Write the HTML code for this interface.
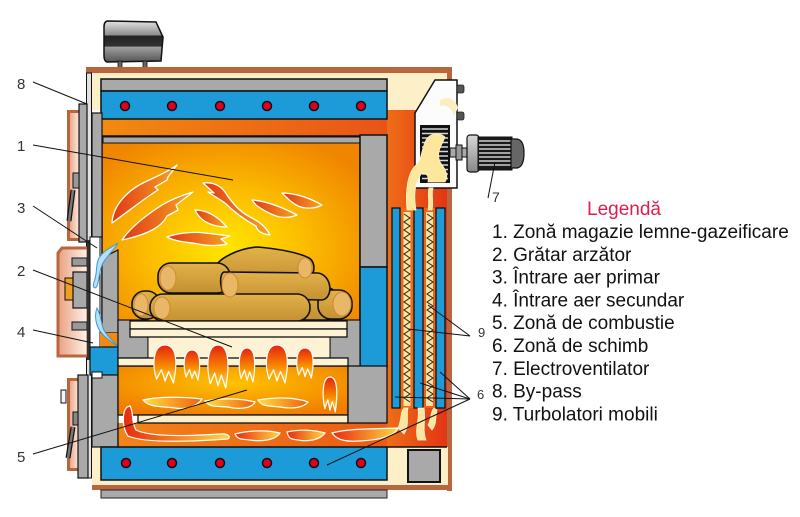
<!DOCTYPE html>
<html><head><meta charset="utf-8"><style>html,body{margin:0;padding:0;background:#fff}svg{display:block}</style></head>
<body>
<svg width="800" height="517" viewBox="0 0 800 517" xmlns="http://www.w3.org/2000/svg">
<defs>
<radialGradient id="gFire" cx="0.48" cy="0.6" r="0.65">
 <stop offset="0" stop-color="#ffe600"/>
 <stop offset="0.45" stop-color="#fcbe00"/>
 <stop offset="1" stop-color="#f08600"/>
</radialGradient>
<radialGradient id="gLow" cx="0.5" cy="0.35" r="0.7">
 <stop offset="0" stop-color="#ffc200"/>
 <stop offset="1" stop-color="#f07c00"/>
</radialGradient>
<linearGradient id="gRed" x1="0" y1="0" x2="1" y2="0">
 <stop offset="0" stop-color="#f07418"/>
 <stop offset="1" stop-color="#e23414"/>
</linearGradient>
<linearGradient id="gBand" x1="0" y1="0" x2="1" y2="0">
 <stop offset="0" stop-color="#f28a10"/>
 <stop offset="1" stop-color="#e85418"/>
</linearGradient>
<linearGradient id="gFlue" x1="0" y1="0" x2="1" y2="0">
 <stop offset="0" stop-color="#f28418"/>
 <stop offset="1" stop-color="#ec5a14"/>
</linearGradient>
<linearGradient id="gFlame" x1="0" y1="0" x2="1" y2="0">
 <stop offset="0" stop-color="#e03818"/>
 <stop offset="1" stop-color="#f8a420"/>
</linearGradient>
<linearGradient id="gFlameUp" x1="0" y1="0" x2="0" y2="1">
 <stop offset="0" stop-color="#e62210"/>
 <stop offset="0.6" stop-color="#f89000"/>
 <stop offset="1" stop-color="#ffe060"/>
</linearGradient>
<linearGradient id="gWisp" x1="0" y1="0" x2="1" y2="0">
 <stop offset="0" stop-color="#ffe040"/>
 <stop offset="1" stop-color="#f06010"/>
</linearGradient>
<linearGradient id="gWispR" x1="0" y1="0" x2="1" y2="0">
 <stop offset="0" stop-color="#e82a10"/>
 <stop offset="1" stop-color="#ffd840"/>
</linearGradient>
<linearGradient id="gPeach" x1="0" y1="0" x2="1" y2="0">
 <stop offset="0" stop-color="#e8a080"/>
 <stop offset="1" stop-color="#fff4ec"/>
</linearGradient>
<linearGradient id="gDev" x1="0" y1="0" x2="0" y2="1">
 <stop offset="0" stop-color="#e4e4e4"/>
 <stop offset="0.35" stop-color="#8a8a8a"/>
 <stop offset="0.36" stop-color="#222"/>
 <stop offset="0.62" stop-color="#333"/>
 <stop offset="0.63" stop-color="#a0a0a0"/>
 <stop offset="1" stop-color="#555"/>
</linearGradient>
<linearGradient id="gLog" x1="0" y1="0" x2="0" y2="1">
 <stop offset="0" stop-color="#e2b24a"/>
 <stop offset="1" stop-color="#c49032"/>
</linearGradient>
<linearGradient id="gMotor" x1="0" y1="0" x2="0" y2="1">
 <stop offset="0" stop-color="#d8d8d8"/>
 <stop offset="1" stop-color="#888"/>
</linearGradient>
</defs>

<!-- top device -->
<path d="M108,21 L156,22 L163,37 L161,61 L107,62 Q104,61 104,56 L104,27 Q104,21 108,21Z" fill="url(#gDev)" stroke="#111" stroke-width="1.5"/>
<rect x="118" y="61" width="4" height="7" fill="#666" stroke="#111" stroke-width="0.8"/>
<rect x="143" y="61" width="4" height="7" fill="#666" stroke="#111" stroke-width="0.8"/>

<!-- body base -->
<rect x="380" y="105" width="68" height="345" fill="url(#gRed)"/>
<rect x="88" y="72" width="360" height="38" fill="#fdefc8"/>
<rect x="101" y="113" width="286" height="25" fill="url(#gBand)"/>
<rect x="86" y="67" width="366" height="6" fill="#b9653e"/>
<rect x="447" y="67" width="5" height="424" fill="#b9653e"/>
<rect x="92" y="447" width="356" height="39" fill="#fdefc8"/>
<rect x="92" y="485" width="360" height="5" fill="#b9653e"/>
<rect x="101" y="490" width="286" height="8" fill="#aaa" stroke="#222" stroke-width="1"/>
<line x1="387" y1="447" x2="447" y2="447" stroke="#111" stroke-width="1.5"/>
<rect x="408" y="450" width="32" height="32" fill="#a9a9a9" stroke="#111" stroke-width="2"/>

<!-- top bars -->
<rect x="101" y="79" width="286" height="12" fill="#a9a9a9" stroke="#111" stroke-width="1.5"/>
<rect x="101" y="91" width="286" height="28" fill="#1d9bd9" stroke="#111" stroke-width="1.5"/>
<g fill="#e0001e" stroke="#111" stroke-width="1.5">
<circle cx="125" cy="106" r="4.5"/><circle cx="172" cy="106" r="4.5"/><circle cx="220" cy="106" r="4.5"/><circle cx="267" cy="106" r="4.5"/><circle cx="314" cy="106" r="4.5"/><circle cx="361" cy="106" r="4.5"/>
</g>

<!-- firebox -->
<rect x="102" y="136" width="258" height="185" fill="url(#gFire)" stroke="#111" stroke-width="1.5"/>
<rect x="103" y="137" width="257" height="6" fill="#aaa" stroke="#111" stroke-width="1"/>
<rect x="360" y="135" width="27" height="132" fill="#a9a9a9" stroke="#111" stroke-width="1.5"/>
<rect x="360" y="267" width="27" height="100" fill="#1d9bd9" stroke="#111" stroke-width="1.5"/>

<!-- upper flames -->
<g fill="url(#gFlame)" stroke="#fff" stroke-width="1.3" stroke-linejoin="round">
<path d="M112,223 C113,205 128,190 145,182 C155,177 168,172 177,165 L168,177 L167,180 L155,187 L158,190 C145,198 130,210 112,223Z"/>
<path d="M122,240 C130,228 145,216 162,205 C172,199 183,195 193,192 L176,205 L178,210 L167,216 C162,226 150,234 122,240Z"/>
<path d="M203,183 C212,182 220,185 225,192 C232,203 240,212 250,217 C260,222 266,227 270,235 C262,234 257,231 256,226 C245,220 235,213 225,203 C218,198 212,195 208,192 L214,193 Z"/>
<path d="M195,210 C205,210 214,215 220,220 C223,223 225,225 227,227 C218,227 210,225 203,220 C199,217 197,214 195,210Z"/>
<path d="M252,200 C265,201 280,206 297,215 C290,218 282,218 276,216 C268,213 260,208 256,205Z"/>
<path d="M282,193 C295,193 310,198 322,205 C315,209 305,209 298,206 C292,203 288,199 282,193Z"/>
<path d="M167,237 C175,234 190,231 205,233 C213,234 222,235 230,236 L221,239 L227,244 C218,246 208,246 198,244 C188,242 176,242 167,237Z"/>
</g>

<!-- logs -->
<g stroke="#111" stroke-width="1.6" fill="url(#gLog)">
<path d="M215,268 C218,258 240,248 258,247 C280,249 300,253 309,258 C316,262 316,276 306,280 L225,282 C216,280 213,274 215,268Z"/>
<rect x="282" y="287" width="56" height="33" rx="13"/>
<rect x="318" y="290" width="34" height="29" rx="13"/>
<rect x="158" y="263" width="72" height="30" rx="13"/>
<path d="M224,272 L318,273 C332,275 334,298 322,300 L230,298 C220,297 218,274 224,272Z"/>
<rect x="132" y="291" width="28" height="28" rx="13"/>
<rect x="150" y="294" width="160" height="27" rx="13"/>
</g>
<g fill="#e8b868" stroke="#d08a30" stroke-width="1">
<ellipse cx="305" cy="268" rx="7" ry="10"/>
<ellipse cx="342" cy="304" rx="9" ry="12"/>
<ellipse cx="168" cy="278" rx="8" ry="12"/>
<ellipse cx="230" cy="285" rx="8" ry="12"/>
<ellipse cx="141" cy="305" rx="7" ry="11"/>
<ellipse cx="162" cy="308" rx="8" ry="11"/>
</g>

<!-- left upper structure -->
<rect x="92" y="113" width="10" height="124" fill="#a9a9a9" stroke="#111" stroke-width="1.2"/>
<rect x="86.5" y="73" width="5" height="405" fill="#e2e2e2" stroke="#111" stroke-width="1"/>
<rect x="68.5" y="111.5" width="12" height="128" fill="url(#gPeach)" stroke="#b9653e" stroke-width="3"/>
<rect x="79" y="104" width="8" height="138" fill="#a9a9a9" stroke="#111" stroke-width="1.2"/>
<rect x="73" y="173" width="6" height="15" fill="#999" stroke="#111" stroke-width="1"/>
<line x1="73" y1="190" x2="69" y2="221" stroke="#111" stroke-width="5"/>
<line x1="73" y1="190" x2="69" y2="221" stroke="#777" stroke-width="2.5"/>

<!-- left middle -->
<path d="M62,248 L88,248 L88,356 L58,356 L58,253 Z" fill="url(#gPeach)" stroke="#b9653e" stroke-width="3"/>
<rect x="65" y="278" width="8" height="22" fill="#f0a020" stroke="#111" stroke-width="1"/>
<rect x="73" y="272" width="14" height="36" fill="#a9a9a9" stroke="#111" stroke-width="1.2"/>
<rect x="72" y="258" width="15" height="8" fill="#999" stroke="#111" stroke-width="1"/>
<rect x="72" y="322" width="15" height="8" fill="#999" stroke="#111" stroke-width="1"/>
<rect x="87" y="240" width="3" height="120" fill="#333"/>
<rect x="90" y="237" width="10" height="116" fill="#fff" stroke="#111" stroke-width="1"/>
<polygon points="102,258 118,250 118,333 102,333" fill="#a9a9a9" stroke="#111" stroke-width="1.2"/>
<rect x="100" y="333" width="18" height="14" fill="#f08a10"/>
<rect x="90" y="347" width="28" height="28" fill="#1d9bd9" stroke="#111" stroke-width="1.2"/>
<g fill="#b8e0f4" stroke="#3a9ad8" stroke-width="1">
<path d="M118,243 C112,247 104,250 99,258 C95,265 98,272 94,282 C92,287 95,290 97,286 C100,278 99,270 103,263 C107,256 114,250 118,243Z"/>
<path d="M97,308 C94,316 96,325 100,331 C105,338 112,342 120,348 C114,342 106,336 103,328 C101,322 101,315 97,308Z"/>
</g>

<!-- left bottom -->
<rect x="92" y="375" width="26" height="72" fill="#a9a9a9" stroke="#111" stroke-width="1.2"/>
<rect x="68.5" y="379.5" width="12" height="90" fill="url(#gPeach)" stroke="#b9653e" stroke-width="3"/>
<rect x="78" y="375" width="10" height="103" fill="#a9a9a9" stroke="#111" stroke-width="1.2"/>
<rect x="92" y="372" width="10" height="6" fill="#fff" stroke="#111" stroke-width="1"/>
<rect x="61" y="390" width="5" height="13" fill="#f4f4f4" stroke="#111" stroke-width="1"/>
<rect x="73" y="412" width="5" height="13" fill="#888" stroke="#111" stroke-width="1"/>
<line x1="73" y1="427" x2="68" y2="458" stroke="#111" stroke-width="5"/>
<line x1="73" y1="427" x2="68" y2="458" stroke="#777" stroke-width="2.5"/>

<!-- grate & lower chamber -->
<rect x="118" y="320" width="30" height="38" fill="#a9a9a9" stroke="#111" stroke-width="1.2"/>
<rect x="330" y="320" width="30" height="47" fill="#a9a9a9" stroke="#111" stroke-width="1.2"/>
<rect x="148" y="337" width="182" height="21" fill="#fdf2d4" stroke="#111" stroke-width="1"/>
<rect x="130" y="321" width="217" height="8" fill="#fdf2d4" stroke="#111" stroke-width="1.3"/>
<rect x="130" y="329" width="217" height="8" fill="#fdf2d4" stroke="#111" stroke-width="1.3"/>
<rect x="118" y="366" width="230" height="49" fill="url(#gLow)" stroke="#111" stroke-width="1.3"/>
<rect x="118" y="358" width="230" height="8" fill="#fdf2d4" stroke="#111" stroke-width="1.3"/>
<rect x="118" y="423" width="269" height="24" fill="url(#gFlue)"/>
<rect x="138" y="415" width="210" height="8" fill="#fdefc8" stroke="#111" stroke-width="1.3"/>
<rect x="348" y="366" width="39" height="57" fill="#a9a9a9" stroke="#111" stroke-width="1.3"/>
<line x1="118" y1="423" x2="118" y2="447" stroke="#111" stroke-width="1.3"/>

<!-- lower flames -->
<g fill="url(#gFlameUp)" stroke="#fff" stroke-width="1.2" stroke-linejoin="round">
<path d="M165,345 C178.2,345 177,365.9 173.4,383 L168.6,371.6 L165,381.1 L161.4,369.7 L156.6,379.2 C151.8,364 153,345 165,345Z"/>
<path d="M192,350 C201.4,350 200.5,366.5 198,380 L194.6,371 L192,378.5 L189.5,369.5 L186,377 C182.7,365 183.5,350 192,350Z"/>
<path d="M218,345 C230.1,345 229,368.7 225.7,388 L221.3,375.1 L218,385.9 L214.7,373 L210.3,383.7 C205.9,366.5 207,345 218,345Z"/>
<path d="M247,348 C256.4,348 255.5,366.7 253,382 L249.6,371.8 L247,380.3 L244.5,370.1 L241,378.6 C237.7,365 238.5,348 247,348Z"/>
<path d="M277,345 C289.7,345 288.5,365.9 285,383 L280.5,371.6 L277,381.1 L273.5,369.7 L269,379.2 C264.4,364 265.5,345 277,345Z"/>
<path d="M305,348 C314.9,348 314,364.5 311.3,378 L307.7,369 L305,376.5 L302.3,367.5 L298.7,375 C295.1,363 296,348 305,348Z"/>
<path d="M330,377 C338.3,377 337.5,396.3 335.3,412 L332.3,401.5 L330,410.3 L327.8,399.8 L324.8,408.5 C321.8,394.5 322.5,377 330,377Z"/>
</g>
<g fill="url(#gWisp)" stroke="#fff" stroke-width="1.2">
<path d="M143,400 C160,396 185,397 202,399 C198,405 188,410 175,408 C160,406 150,408 143,400Z"/>
<path d="M205,401 C220,398 240,398 255,402 C252,408 240,410 228,407 C218,406 210,408 205,401Z"/>
<path d="M258,400 C275,397 295,397 308,402 C303,408 292,409 280,407 C270,406 262,407 258,400Z"/>
</g>
<g fill="url(#gWispR)" stroke="#fff" stroke-width="1.2">
<path d="M127,407 C122,412 122,428 128,436 C145,443 185,442 228,439 C232,436 226,433 220,434 C190,436 150,437 136,430 C131,422 134,412 130,406 Z"/>
<path d="M235,434 C250,430 268,430 280,433 C276,440 262,442 250,440 C242,439 238,440 235,434Z"/>
<path d="M287,432 C300,429 315,430 325,433 C320,440 308,442 298,440 C292,439 289,440 287,432Z"/>
<path d="M332,433 C350,428 380,429 398,428 C395,436 380,440 360,441 C345,442 337,440 332,433Z"/>
</g>

<!-- bottom blue bar -->
<rect x="101" y="447" width="286" height="33" fill="#1d9bd9" stroke="#111" stroke-width="1.5"/>
<g fill="#e0001e" stroke="#111" stroke-width="1.5">
<circle cx="126" cy="463" r="4.5"/><circle cx="172" cy="463" r="4.5"/><circle cx="220" cy="463" r="4.5"/><circle cx="267" cy="463" r="4.5"/><circle cx="314" cy="463" r="4.5"/><circle cx="361" cy="463" r="4.5"/>
</g>

<!-- heat exchanger -->
<rect x="400" y="208" width="14" height="200" fill="#ee6a18"/>
<rect x="423" y="208" width="13" height="200" fill="#ee6218"/>
<rect x="403.5" y="212" width="7" height="194" fill="#fbe4a0"/>
<rect x="426" y="212" width="7" height="194" fill="#fbe4a0"/>
<polyline fill="none" stroke="#222" stroke-width="1" points="404,214 410,218 404,222 410,226 404,230 410,234 404,238 410,242 404,246 410,250 404,254 410,258 404,262 410,266 404,270 410,274 404,278 410,282 404,286 410,290 404,294 410,298 404,302 410,306 404,310 410,314 404,318 410,322 404,326 410,330 404,334 410,338 404,342 410,346 404,350 410,354 404,358 410,362 404,366 410,370 404,374 410,378 404,382 410,386 404,390 410,394 404,398 410,402"/>
<polyline fill="none" stroke="#222" stroke-width="1" points="427,214 433,218 427,222 433,226 427,230 433,234 427,238 433,242 427,246 433,250 427,254 433,258 427,262 433,266 427,270 433,274 427,278 433,282 427,286 433,290 427,294 433,298 427,302 433,306 427,310 433,314 427,318 433,322 427,326 433,330 427,334 433,338 427,342 433,346 427,350 433,354 427,358 433,362 427,366 433,370 427,374 433,378 427,382 433,386 427,390 433,394 427,398 433,402"/>
<g fill="#1d9bd9" stroke="#111" stroke-width="1.3">
<rect x="392" y="208" width="8" height="200"/>
<rect x="414" y="208" width="9" height="200"/>
<rect x="436" y="208" width="9" height="200"/>
</g>
<g fill="#fde7a0" stroke="#fff6d0" stroke-width="0.8">
<path d="M398,428 C402,420 400,412 404,408 L408,408 C406,416 410,424 404,434 Z"/>
<path d="M418,440 C414,430 420,420 418,408 L424,408 C426,420 422,430 426,440 Z"/>
<path d="M428,425 C432,418 430,412 434,408 L437,410 C435,418 437,424 432,430 Z"/>
</g>

<!-- fan housing -->
<polygon points="415,113 435,80 457,80 457,188 415,188" fill="#fcfcfc" stroke="#111" stroke-width="1.5"/>
<path d="M440,100 C446,96 456,98 458,108 L454,116 C452,108 446,104 440,106Z" fill="#fbeec0"/>
<rect x="457" y="85" width="7" height="8" rx="2" fill="#555" stroke="#222" stroke-width="0.8"/>
<rect x="457" y="112" width="7" height="8" rx="2" fill="#555" stroke="#222" stroke-width="0.8"/>
<rect x="420" y="125" width="30" height="58" fill="#111"/>
<g stroke="#d8d8d8" stroke-width="1.6">
<line x1="422" y1="129" x2="448" y2="129"/><line x1="422" y1="133.5" x2="448" y2="133.5"/><line x1="422" y1="138" x2="448" y2="138"/><line x1="422" y1="142.5" x2="448" y2="142.5"/><line x1="422" y1="147" x2="448" y2="147"/><line x1="422" y1="151.5" x2="448" y2="151.5"/><line x1="422" y1="156" x2="448" y2="156"/><line x1="422" y1="160.5" x2="448" y2="160.5"/><line x1="422" y1="165" x2="448" y2="165"/><line x1="422" y1="169.5" x2="448" y2="169.5"/><line x1="422" y1="174" x2="448" y2="174"/><line x1="422" y1="178.5" x2="448" y2="178.5"/>
</g>
<!-- smoke -->
<g fill="#fde79c" stroke="#fff4cc" stroke-width="0.8">
<path d="M407,210 C405,190 408,172 416,165 C422,160 421,150 426,140 C430,133 439,132 445,137 C441,147 436,152 440,162 C446,170 449,176 445,182 L428,182 C430,174 422,170 420,176 C414,184 414,198 416,210 Z"/>
<path d="M428,210 C430,200 427,195 429,188 L433,188 C431,196 434,202 432,210 Z"/>
</g>
<!-- motor -->
<rect x="450" y="148" width="18" height="9" fill="#aaa" stroke="#111" stroke-width="1"/>
<rect x="456" y="145" width="6" height="15" fill="#999" stroke="#111" stroke-width="1"/>
<rect x="467" y="135" width="12" height="37" rx="3" fill="url(#gMotor)" stroke="#111" stroke-width="1.2"/>
<rect x="478" y="137" width="34" height="33" fill="#1a1a1a" stroke="#111" stroke-width="1"/>
<g stroke="#cfcfcf" stroke-width="1.4">
<line x1="479" y1="141" x2="511" y2="141"/><line x1="479" y1="145" x2="511" y2="145"/><line x1="479" y1="149" x2="511" y2="149"/><line x1="479" y1="153" x2="511" y2="153"/><line x1="479" y1="157" x2="511" y2="157"/><line x1="479" y1="161" x2="511" y2="161"/><line x1="479" y1="165" x2="511" y2="165"/>
</g>
<path d="M511,139 L517,139 Q524,140 524,153 Q524,167 517,168 L511,168 Z" fill="#666" stroke="#111" stroke-width="1.2"/>

<!-- leader lines -->
<g stroke="#111" stroke-width="1" fill="none">
<line x1="33" y1="82" x2="87" y2="104"/>
<line x1="33" y1="145" x2="233" y2="180"/>
<line x1="33" y1="206" x2="97" y2="248"/>
<line x1="33" y1="270" x2="232" y2="347"/>
<line x1="33" y1="330" x2="93" y2="343"/>
<line x1="33" y1="454" x2="247" y2="390"/>
<line x1="495" y1="162" x2="488" y2="198"/>
<line x1="470" y1="336" x2="408" y2="329"/>
<line x1="470" y1="336" x2="428" y2="305"/>
<line x1="470" y1="399" x2="395" y2="397"/>
<line x1="470" y1="399" x2="420" y2="383"/>
<line x1="470" y1="399" x2="440" y2="372"/>
<line x1="470" y1="399" x2="327" y2="465"/>
</g>

<!-- number labels -->
<g font-family="Liberation Sans, Arial, sans-serif" font-size="15" fill="#333">
<text x="17" y="89">8</text>
<text x="17" y="151">1</text>
<text x="17" y="213">3</text>
<text x="17" y="276">2</text>
<text x="17" y="337">4</text>
<text x="17" y="462">5</text>
<text x="492" y="202" font-size="14">7</text>
<text x="478" y="337" font-size="13">9</text>
<text x="477" y="399" font-size="13">6</text>
</g>

<!-- legend -->
<text x="587" y="215" font-family="Liberation Sans, Arial, sans-serif" font-size="19" fill="#e01e4c">Legendă</text>
<g font-family="Liberation Sans, Arial, sans-serif" font-size="19" fill="#111">
<text x="492" y="238">1. Zonă magazie lemne-gazeificare</text>
<text x="492" y="261">2. Grătar arzător</text>
<text x="492" y="283.5">3. Întrare aer primar</text>
<text x="492" y="306.5">4. Întrare aer secundar</text>
<text x="492" y="329">5. Zonă de combustie</text>
<text x="492" y="352">6. Zonă de schimb</text>
<text x="492" y="375">7. Electroventilator</text>
<text x="492" y="397.5">8. By-pass</text>
<text x="492" y="420.5">9. Turbolatori mobili</text>
</g>
</svg>
</body></html>
